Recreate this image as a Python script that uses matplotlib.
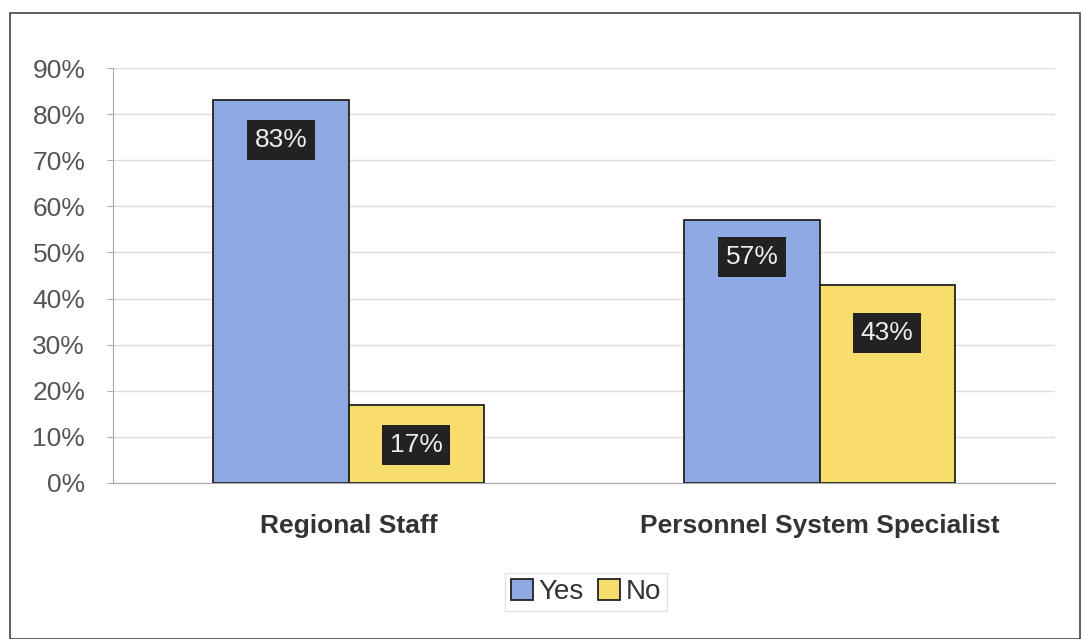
import matplotlib.pyplot as plt
import numpy as np
from matplotlib.patches import Rectangle

plt.rcParams['font.family'] = ['Liberation Sans', 'DejaVu Sans']

categories = ['Regional Staff', 'Personnel System Specialist']
yes = [83, 57]
no = [17, 43]
label_offsets = [40, 40, 37, 48]

fig = plt.figure(figsize=(10.86, 6.39), dpi=100)
ax = fig.add_axes([113/1086, 1-483/639, 942/1086, 415/639])

x = np.arange(len(categories))
w = 0.287
b1 = ax.bar(x - w/2, yes, w, color='#8fa9e2', edgecolor='#222222', linewidth=1.3, label='Yes')
b2 = ax.bar(x + w/2, no, w, color='#f6dd6c', edgecolor='#222222', linewidth=1.3, label='No')

ax.set_xlim(-0.5, 1.5)
ax.set_ylim(0, 90)
ax.set_yticks(np.arange(0, 91, 10))
ax.set_yticklabels([f'{v}%' for v in range(0, 91, 10)], fontsize=19, color='#555555')
ax.set_xticks(x)
ax.set_xticklabels(categories, fontsize=19, fontweight='bold', color='#333333')
ax.tick_params(axis='x', length=0, pad=22)
ax.tick_params(axis='y', length=4, color='#aaaaaa', pad=16)
ax.yaxis.grid(True, color='#dddddd', linewidth=1)
ax.set_axisbelow(True)
for s in ['top', 'right']:
    ax.spines[s].set_visible(False)
ax.spines['left'].set_color('#aaaaaa')
ax.spines['bottom'].set_color('#aaaaaa')

vals = yes + no
bars = list(b1) + list(b2)
order = [0, 2, 1, 3]
for i, bar in enumerate(bars):
    v = vals[i]
    ax.annotate(f'{v}%', (bar.get_x() + bar.get_width()/2, v),
                xytext=(0, -label_offsets[order[i]]), textcoords='offset pixels',
                ha='center', va='center', fontsize=19, color='#eeeeee',
                bbox=dict(boxstyle='square,pad=0.3', fc='#222222', ec='none'))

leg = fig.legend(loc='center', bbox_to_anchor=(586/1086, 1-592/639), ncol=2,
                 fontsize=20, frameon=True, handlelength=0.8, handleheight=0.8,
                 handletextpad=0.2, columnspacing=0.5, borderpad=0.2, fancybox=False)
leg.get_frame().set_edgecolor('#dddddd')
for t in leg.get_texts():
    t.set_color('#333333')

fig.add_artist(Rectangle((10/1086, 0), 1070/1086, 1-13/639, transform=fig.transFigure,
                         fill=False, edgecolor='#444444', linewidth=1.2))

fig.savefig('out.png', dpi=100)
